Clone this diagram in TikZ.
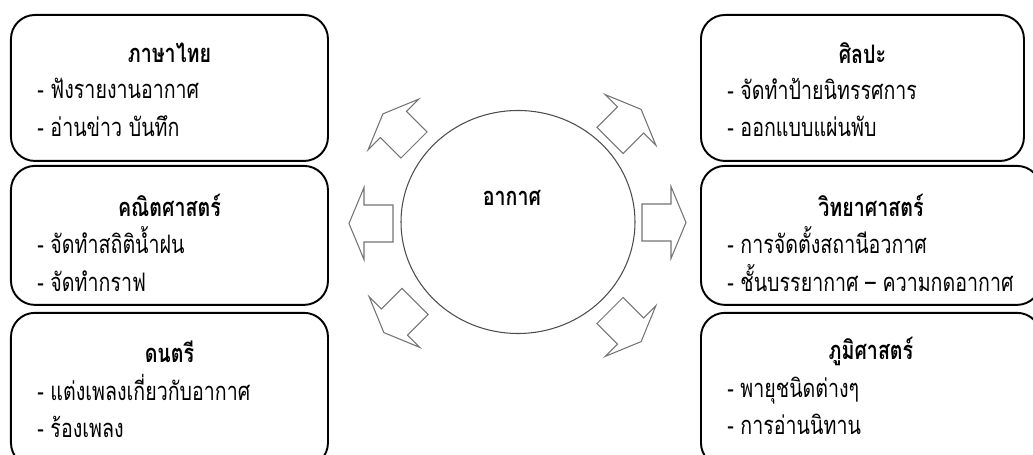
\documentclass[tikz,border=0pt]{standalone}
\usepackage{fontspec}
\usepackage{tikz}
\usetikzlibrary{positioning,shapes.geometric}
\newfontfamily\thaifont[Script=Thai, FakeStretch=0.77]{Loma}

\begin{document}
\begin{tikzpicture}[
    node distance=0.06cm,
    subject/.style={draw, line width=1.1pt, rounded corners=0.48cm, minimum width=6.34cm, minimum height=2.92cm, inner sep=0pt},
    heading/.style={font=\thaifont\bfseries\fontsize{14.5}{21}\selectfont, inner sep=0pt},
    detail/.style={font=\thaifont\fontsize{14.5}{21.5}\selectfont, align=left, anchor=west, inner sep=0pt},
    blockarrow/.pic={\draw[black!55, line width=0.6pt] (0,-0.37) -- (0.58,-0.37) -- (0.58,-0.72) -- (0.88,0) -- (0.58,0.72) -- (0.58,0.37) -- (0,0.37) -- cycle;}
]
\useasboundingbox (0,0) rectangle (20.66,-9.1);

% Left column
\node[subject, anchor=north west] (thai) at (0.2,-0.28) {};
\node[subject, below=0.06cm of thai, minimum height=2.78cm] (math) {};
\node[subject, below=0.12cm of math, minimum height=3.08cm] (music) {};

% Right column
\node[subject, anchor=north west, minimum width=6.46cm] (art) at (14,-0.28) {};
\node[subject, below=0.06cm of art.south west, anchor=north west, minimum width=6.8cm, minimum height=2.78cm] (sci) {};
\node[subject, below=0.12cm of sci, minimum width=6.8cm, minimum height=3.08cm] (geo) {};

% Headings
\node[heading] (thaiH) at ([yshift=-0.78cm]thai.north) {ภาษาไทย};
\node[heading] (mathH) at ([yshift=-0.8cm]math.north) {คณิตศาสตร์};
\node[heading] (musicH) at ([yshift=-0.8cm]music.north) {ดนตรี};
\node[heading] (artH) at ([yshift=-0.78cm]art.north) {ศิลปะ};
\node[heading] (sciH) at ([yshift=-0.8cm]sci.north) {วิทยาศาสตร์};
\node[heading] (geoH) at ([yshift=-0.8cm]geo.north) {ภูมิศาสตร์};

% Details
\node[detail] (thaiL) at ([xshift=0.54cm,yshift=-1.87cm]thai.north west) {- ฟังรายงานอากาศ\\- อ่านข่าว บันทึก};
\node[detail] (mathL) at ([xshift=0.54cm,yshift=-1.88cm]math.north west) {- จัดทำสถิติน้ำฝน\\- จัดทำกราฟ};
\node[detail] (musicL) at ([xshift=0.54cm,yshift=-1.88cm]music.north west) {- แต่งเพลงเกี่ยวกับอากาศ\\- ร้องเพลง};
\node[detail] (artL) at ([xshift=0.54cm,yshift=-1.87cm]art.north west) {- จัดทำป้ายนิทรรศการ\\- ออกแบบแผ่นพับ};
\node[detail] (sciL) at ([xshift=0.54cm,yshift=-1.88cm]sci.north west) {- การจัดตั้งสถานีอวกาศ\\- ชั้นบรรยากาศ – ความกดอากาศ};
\node[detail] (geoL) at ([xshift=0.54cm,yshift=-1.88cm]geo.north west) {- พายุชนิดต่างๆ\\- การอ่านนิทาน};

% Centre
\node[ellipse, draw=black!70, line width=0.6pt, minimum width=4.68cm, minimum height=4.46cm] (air) at (10.36,-4.44) {};
\node[heading] (airH) at (10.24,-3.96) {อากาศ};

% Arrows
\pic[rotate=180] at (7.86,-4.47) {blockarrow};
\pic at (12.84,-4.45) {blockarrow};
\pic[rotate=135] at (8.28,-2.9) {blockarrow};
\pic[rotate=45] at (12.2,-2.81) {blockarrow};
\pic[rotate=225] at (8.3,-6.03) {blockarrow};
\pic[rotate=-45] at (12.2,-6.21) {blockarrow};

\end{tikzpicture}
\end{document}
